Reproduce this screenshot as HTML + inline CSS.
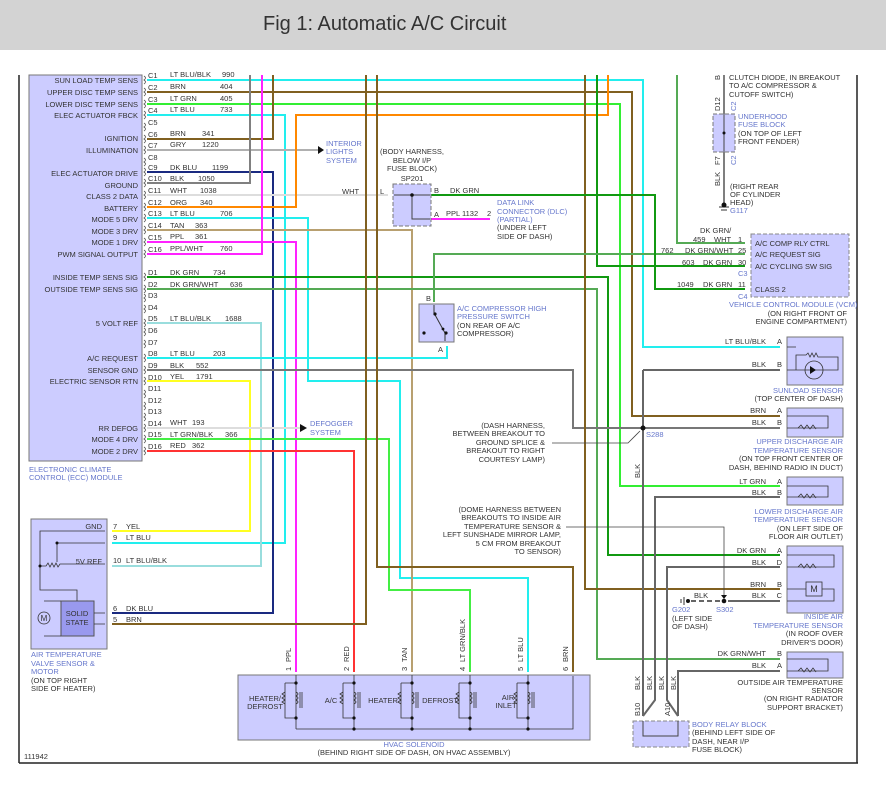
<!DOCTYPE html>
<html><head><meta charset="utf-8"><style>
body{margin:0;background:#fff;width:886px;height:786px;overflow:hidden}
svg{display:block}
text{font-family:"Liberation Sans",sans-serif;font-size:7.5px;fill:#333}
.b{fill:#6677cc}
.w{fill:none;stroke-width:2}
</style></head><body>
<svg width="886" height="786" viewBox="0 0 886 786">
<rect x="0" y="0" width="886" height="50" fill="#d3d3d3"/>
<text x="263" y="30" style="font-size:20px;fill:#333">Fig 1: Automatic A/C Circuit</text>
<line x1="19" y1="75" x2="19" y2="763" stroke="#222" stroke-width="1.5"/>
<line x1="857" y1="75" x2="857" y2="763" stroke="#222" stroke-width="1.5"/>
<line x1="19" y1="763" x2="858" y2="763" stroke="#222" stroke-width="1.5"/>

<!-- ECC module -->
<rect x="29" y="75" width="113" height="386" fill="#ccccff" stroke="#777"/>
<g text-anchor="end">
<text x="138" y="83">SUN LOAD TEMP SENS</text><text x="138" y="95">UPPER DISC TEMP SENS</text>
<text x="138" y="107">LOWER DISC TEMP SENS</text><text x="138" y="118">ELEC ACTUATOR FBCK</text>
<text x="138" y="141">IGNITION</text><text x="138" y="153">ILLUMINATION</text>
<text x="138" y="176">ELEC ACTUATOR DRIVE</text><text x="138" y="188">GROUND</text>
<text x="138" y="199">CLASS 2 DATA</text><text x="138" y="211">BATTERY</text>
<text x="138" y="222">MODE 5 DRV</text><text x="138" y="234">MODE 3 DRV</text>
<text x="138" y="245">MODE 1 DRV</text><text x="138" y="257">PWM SIGNAL OUTPUT</text>
<text x="138" y="280">INSIDE TEMP SENS SIG</text><text x="138" y="292">OUTSIDE TEMP SENS SIG</text>
<text x="138" y="326">5 VOLT REF</text><text x="138" y="361">A/C REQUEST</text>
<text x="138" y="373">SENSOR GND</text><text x="138" y="384">ELECTRIC SENSOR RTN</text>
<text x="138" y="431">RR DEFOG</text><text x="138" y="442">MODE 4 DRV</text><text x="138" y="454">MODE 2 DRV</text>
</g>
<text x="29" y="472" class="b">ELECTRONIC CLIMATE</text>
<text x="29" y="480" class="b">CONTROL (ECC) MODULE</text>
<g fill="none" stroke="#555" stroke-width="0.8">
<path d="M144,76q3,2 0,4q3,2 0,4M144,88q3,2 0,4q3,2 0,4M144,100q3,2 0,4q3,2 0,4M144,111q3,2 0,4q3,2 0,4M144,123q3,2 0,4q3,2 0,4M144,135q3,2 0,4q3,2 0,4M144,146q3,2 0,4q3,2 0,4M144,158q3,2 0,4q3,2 0,4M144,168q3,2 0,4q3,2 0,4M144,179q3,2 0,4q3,2 0,4M144,191q3,2 0,4q3,2 0,4M144,203q3,2 0,4q3,2 0,4M144,214q3,2 0,4q3,2 0,4M144,226q3,2 0,4q3,2 0,4M144,238q3,2 0,4q3,2 0,4M144,250q3,2 0,4q3,2 0,4"/>
<path d="M144,273q3,2 0,4q3,2 0,4M144,285q3,2 0,4q3,2 0,4M144,294q3,2 0,4q3,2 0,4M144,305q3,2 0,4q3,2 0,4M144,319q3,2 0,4q3,2 0,4M144,328q3,2 0,4q3,2 0,4M144,340q3,2 0,4q3,2 0,4M144,354q3,2 0,4q3,2 0,4M144,366q3,2 0,4q3,2 0,4M144,377q3,2 0,4q3,2 0,4M144,390q3,2 0,4q3,2 0,4M144,402q3,2 0,4q3,2 0,4M144,413q3,2 0,4q3,2 0,4M144,424q3,2 0,4q3,2 0,4M144,435q3,2 0,4q3,2 0,4M144,447q3,2 0,4q3,2 0,4"/>
</g>
<g>
<text x="148" y="78">C1</text><text x="148" y="90">C2</text><text x="148" y="102">C3</text><text x="148" y="113">C4</text>
<text x="148" y="125">C5</text><text x="148" y="137">C6</text><text x="148" y="148">C7</text><text x="148" y="160">C8</text>
<text x="148" y="170">C9</text><text x="148" y="181">C10</text><text x="148" y="193">C11</text><text x="148" y="205">C12</text>
<text x="148" y="216">C13</text><text x="148" y="228">C14</text><text x="148" y="240">C15</text><text x="148" y="252">C16</text>
<text x="148" y="275">D1</text><text x="148" y="287">D2</text><text x="148" y="298">D3</text><text x="148" y="310">D4</text>
<text x="148" y="321">D5</text><text x="148" y="333">D6</text><text x="148" y="345">D7</text><text x="148" y="356">D8</text>
<text x="148" y="368">D9</text><text x="148" y="380">D10</text><text x="148" y="391">D11</text><text x="148" y="403">D12</text>
<text x="148" y="414">D13</text><text x="148" y="426">D14</text><text x="148" y="437">D15</text><text x="148" y="449">D16</text>
</g>
<g>
<text x="170" y="77">LT BLU/BLK</text><text x="222" y="77">990</text>
<text x="170" y="89">BRN</text><text x="220" y="89">404</text>
<text x="170" y="101">LT GRN</text><text x="220" y="101">405</text>
<text x="170" y="112">LT BLU</text><text x="220" y="112">733</text>
<text x="170" y="136">BRN</text><text x="202" y="136">341</text>
<text x="170" y="147">GRY</text><text x="202" y="147">1220</text>
<text x="170" y="170">DK BLU</text><text x="212" y="170">1199</text>
<text x="170" y="181">BLK</text><text x="198" y="181">1050</text>
<text x="170" y="193">WHT</text><text x="200" y="193">1038</text>
<text x="170" y="205">ORG</text><text x="200" y="205">340</text>
<text x="170" y="216">LT BLU</text><text x="220" y="216">706</text>
<text x="170" y="228">TAN</text><text x="195" y="228">363</text>
<text x="170" y="239">PPL</text><text x="195" y="239">361</text>
<text x="170" y="251">PPL/WHT</text><text x="220" y="251">760</text>
<text x="170" y="275">DK GRN</text><text x="213" y="275">734</text>
<text x="170" y="287">DK GRN/WHT</text><text x="230" y="287">636</text>
<text x="170" y="321">LT BLU/BLK</text><text x="225" y="321">1688</text>
<text x="170" y="356">LT BLU</text><text x="213" y="356">203</text>
<text x="170" y="368">BLK</text><text x="196" y="368">552</text>
<text x="170" y="379">YEL</text><text x="196" y="379">1791</text>
<text x="170" y="425">WHT</text><text x="192" y="425">193</text>
<text x="170" y="437">LT GRN/BLK</text><text x="225" y="437">366</text>
<text x="170" y="448">RED</text><text x="192" y="448">362</text>
</g>

<!-- wires -->
<g class="w">
<path d="M147,80H643V347H780" stroke="#22eeee"/>
<path d="M147,92H632V416H780" stroke="#806020"/>
<path d="M147,104H620V486H780" stroke="#33ee33"/>
<path d="M147,115H285V543H112" stroke="#22eeee"/>
<path d="M147,139H273V75" stroke="#806020"/>
<path d="M147,150H318" stroke="#b0b0b0"/>
<path d="M147,172H273V613H112" stroke="#1a2a80"/>
<path d="M147,183H250V75" stroke="#808080"/>
<path d="M147,195H388" stroke="#dddddd"/>
<path d="M147,207H296V115H608V75" stroke="#ff8800"/>
<path d="M147,218H308V381H400V578H528V672" stroke="#22eeee"/>
<path d="M147,230H412V672" stroke="#b8a070"/>
<path d="M147,242H296V672" stroke="#ff22ff"/>
<path d="M147,254H262V75" stroke="#ff22ff"/>
<path d="M147,277H608V555H780" stroke="#119911"/>
<path d="M147,289H597V659H780" stroke="#55aa55"/>
<path d="M147,323H261V566H112" stroke="#99dddd"/>
<path d="M147,358H447V346" stroke="#22eeee"/>
<path d="M147,370H573V428H780" stroke="#777"/>
<path d="M147,381H250V531H112" stroke="#ffff22"/>
<path d="M147,428H300" stroke="#dddddd"/>
<path d="M147,439H389V590H470V672" stroke="#44ee44"/>
<path d="M147,451H354V672" stroke="#ff3333"/>
<path d="M366,75V624H112" stroke="#806020"/>
<path d="M377,75V567H573V672" stroke="#806020"/>
<path d="M585,75V589H780" stroke="#806020"/>
<path d="M597,75V266H745" stroke="#119911"/>
<path d="M677,75V243H745" stroke="#55aa55"/>
<path d="M434,302V254H745" stroke="#55aa55"/>
<path d="M398,195H655V289H745" stroke="#119911"/>
<path d="M398,219H490" stroke="#ff22ff"/>
<path d="M643,370H780M643,370V712L643,716" stroke="#666"/>
<path d="M780,497H655V700L643,716M780,567H667V700L678,716M780,671H678V716" stroke="#666"/>
<path d="M780,601H728" stroke="#666"/>
<path d="M720,601H688" stroke="#666" stroke-dasharray="5,3"/>
<path d="M724,75V114M724,152V205" stroke="#555" stroke-width="1.5"/>
</g>
<path d="M318,146l6,4l-6,4z M300,424l7,4l-7,4z" fill="#111"/>
<path d="M719,207h10M721,210h6" stroke="#333"/>
<circle cx="724" cy="205" r="2.5" fill="#111"/>
<circle cx="643" cy="428" r="2.5" fill="#111"/>
<circle cx="724" cy="601" r="2.3" fill="#111"/>
<circle cx="688" cy="601" r="2" fill="#111"/><path d="M684,597v8M681,599v4" stroke="#333"/>
<path d="M552,443H628L640,431" stroke="#444" fill="none" stroke-width="0.8"/>
<path d="M566,527H724V597" stroke="#444" fill="none" stroke-width="0.8"/>
<path d="M721,595l3,4l3,-4z" fill="#111"/>

<text x="326" y="146" class="b">INTERIOR</text><text x="326" y="154" class="b">LIGHTS</text><text x="326" y="163" class="b">SYSTEM</text>
<text x="310" y="426" class="b">DEFOGGER</text><text x="310" y="435" class="b">SYSTEM</text>

<!-- SP201 -->
<rect x="393" y="184" width="38" height="42" fill="#ccccff" stroke="#777" stroke-dasharray="4,2"/>
<path d="M394,195H430M412,195V219H430" stroke="#444" fill="none"/><circle cx="412" cy="195" r="1.8" fill="#111"/>
<text x="412" y="154" text-anchor="middle">(BODY HARNESS,</text><text x="412" y="163" text-anchor="middle">BELOW I/P</text>
<text x="412" y="171" text-anchor="middle">FUSE BLOCK)</text><text x="412" y="181" text-anchor="middle">SP201</text>
<text x="380" y="194">L</text><text x="434" y="193">B</text><text x="434" y="217">A</text>
<text x="342" y="194">WHT</text><text x="450" y="193">DK GRN</text>
<text x="446" y="216">PPL</text><text x="462" y="216">1132</text><text x="487" y="216">2</text>
<text x="497" y="205" class="b">DATA LINK</text><text x="497" y="214" class="b">CONNECTOR (DLC)</text>
<text x="497" y="222" class="b">(PARTIAL)</text><text x="497" y="230">(UNDER LEFT</text><text x="497" y="239">SIDE OF DASH)</text>

<!-- pressure switch -->
<rect x="419" y="304" width="35" height="38" fill="#ccccff" stroke="#777"/>
<path d="M434,305V313L445,333V341" stroke="#333" fill="none"/>
<circle cx="435" cy="314" r="1.6" fill="#111"/><circle cx="443" cy="329" r="1.4" fill="#111"/><circle cx="446" cy="333" r="1.6" fill="#111"/><circle cx="424" cy="333" r="1.6" fill="#111"/>
<text x="426" y="301">B</text><text x="438" y="352">A</text>
<text x="457" y="311" class="b">A/C COMPRESSOR HIGH</text><text x="457" y="319" class="b">PRESSURE SWITCH</text>
<text x="457" y="328">(ON REAR OF A/C</text><text x="457" y="336">COMPRESSOR)</text>

<!-- underhood fuse -->
<rect x="713" y="114" width="22" height="38" fill="#ccccff" stroke="#777" stroke-dasharray="4,2"/>
<line x1="724" y1="114" x2="724" y2="152" stroke="#444"/><circle cx="724" cy="133" r="1.5" fill="#111"/>
<text x="729" y="80">CLUTCH DIODE, IN BREAKOUT</text><text x="729" y="88">TO A/C COMPRESSOR &amp;</text><text x="729" y="97">CUTOFF SWITCH)</text>
<text x="738" y="119" class="b">UNDERHOOD</text><text x="738" y="127" class="b">FUSE BLOCK</text>
<text x="738" y="136">(ON TOP OF LEFT</text><text x="738" y="144">FRONT FENDER)</text>
<text x="730" y="189">(RIGHT REAR</text><text x="730" y="197">OF CYLINDER</text><text x="730" y="205">HEAD)</text>
<text x="730" y="213" class="b">G117</text>
<text transform="translate(720,111) rotate(-90)">D12</text><text transform="translate(736,111) rotate(-90)" class="b">C2</text>
<text transform="translate(720,165) rotate(-90)">F7</text><text transform="translate(736,165) rotate(-90)" class="b">C2</text>
<text transform="translate(720,186) rotate(-90)">BLK</text><text transform="translate(720,80) rotate(-90)">B</text>

<!-- VCM -->
<rect x="751" y="234" width="98" height="63" fill="#ccccff" stroke="#888" stroke-dasharray="4,2"/>
<text x="755" y="246">A/C COMP RLY CTRL</text><text x="755" y="257">A/C REQUEST SIG</text>
<text x="755" y="269">A/C CYCLING SW SIG</text><text x="755" y="292">CLASS 2</text>
<text x="700" y="233">DK GRN/</text><text x="693" y="242">459</text><text x="714" y="242">WHT</text><text x="738" y="242">1</text>
<text x="661" y="253">762</text><text x="685" y="253">DK GRN/WHT</text><text x="738" y="253">25</text>
<text x="682" y="265">603</text><text x="703" y="265">DK GRN</text><text x="738" y="265">30</text>
<text x="677" y="287">1049</text><text x="703" y="287">DK GRN</text><text x="738" y="287">11</text>
<text x="738" y="276" class="b">C3</text><text x="738" y="299" class="b">C4</text>
<text x="729" y="307" class="b">VEHICLE CONTROL MODULE (VCM)</text>
<text x="847" y="316" text-anchor="end">(ON RIGHT FRONT OF</text><text x="847" y="324" text-anchor="end">ENGINE COMPARTMENT)</text>

<!-- sensors -->
<g fill="#ccccff" stroke="#777">
<rect x="787" y="337" width="56" height="48"/><rect x="787" y="408" width="56" height="29"/>
<rect x="787" y="477" width="56" height="28"/><rect x="787" y="546" width="56" height="67"/>
<rect x="787" y="652" width="56" height="26"/>
</g>
<g fill="none" stroke="#333" stroke-width="0.8">
<path d="M796,347H787M796,370H787M796,370V355H806l2,-2 2,4 2,-4 2,4 2,-4 2,4H838V370H796"/><circle cx="814" cy="370" r="9"/>
<path d="M787,416H828V428H787M798,428l3,-3 3,4 3,-4 3,4 3,-4 3,4"/>
<path d="M787,486H828V497H787M798,497l3,-3 3,4 3,-4 3,4 3,-4 3,4"/>
<path d="M787,555H834V567H787M798,567l3,-3 3,4 3,-4 3,4 3,-4 3,4"/>
<path d="M787,589H806M822,589H834V601H787"/><rect x="806" y="582" width="16" height="14"/>
<path d="M787,659H828V671H787M798,671l3,-3 3,4 3,-4 3,4 3,-4 3,4"/>
</g>
<text x="814" y="592" text-anchor="middle" style="font-size:9px">M</text>
<path d="M810,366l6,4l-6,4z" fill="#111"/>
<g text-anchor="end">
<text x="766" y="344">LT BLU/BLK</text><text x="782" y="344">A</text>
<text x="766" y="367">BLK</text><text x="782" y="367">B</text>
<text x="766" y="413">BRN</text><text x="782" y="413">A</text>
<text x="766" y="425">BLK</text><text x="782" y="425">B</text>
<text x="766" y="484">LT GRN</text><text x="782" y="484">A</text>
<text x="766" y="495">BLK</text><text x="782" y="495">B</text>
<text x="766" y="553">DK GRN</text><text x="782" y="553">A</text>
<text x="766" y="565">BLK</text><text x="782" y="565">D</text>
<text x="766" y="587">BRN</text><text x="782" y="587">B</text>
<text x="766" y="598">BLK</text><text x="782" y="598">C</text>
<text x="766" y="656">DK GRN/WHT</text><text x="782" y="656">B</text>
<text x="766" y="668">BLK</text><text x="782" y="668">A</text>
<text x="843" y="393" class="b">SUNLOAD SENSOR</text><text x="843" y="401">(TOP CENTER OF DASH)</text>
<text x="843" y="444" class="b">UPPER DISCHARGE AIR</text><text x="843" y="453" class="b">TEMPERATURE SENSOR</text>
<text x="843" y="461">(ON TOP FRONT CENTER OF</text><text x="843" y="470">DASH, BEHIND RADIO IN DUCT)</text>
<text x="843" y="514" class="b">LOWER DISCHARGE AIR</text><text x="843" y="522" class="b">TEMPERATURE SENSOR</text>
<text x="843" y="531">(ON LEFT SIDE OF</text><text x="843" y="539">FLOOR AIR OUTLET)</text>
<text x="843" y="619" class="b">INSIDE AIR</text><text x="843" y="628" class="b">TEMPERATURE SENSOR</text>
<text x="843" y="636">(IN ROOF OVER</text><text x="843" y="645">DRIVER'S DOOR)</text>
<text x="843" y="685">OUTSIDE AIR TEMPERATURE</text><text x="843" y="693">SENSOR</text>
<text x="843" y="701">(ON RIGHT RADIATOR</text><text x="843" y="710">SUPPORT BRACKET)</text>
<text x="545" y="428">(DASH HARNESS,</text><text x="545" y="436">BETWEEN BREAKOUT TO</text>
<text x="545" y="445">GROUND SPLICE &amp;</text><text x="545" y="453">BREAKOUT TO RIGHT</text><text x="545" y="462">COURTESY LAMP)</text>
<text x="561" y="512">(DOME HARNESS BETWEEN</text><text x="561" y="520">BREAKOUTS TO INSIDE AIR</text>
<text x="561" y="529">TEMPERATURE SENSOR &amp;</text><text x="561" y="537">LEFT SUNSHADE MIRROR LAMP,</text>
<text x="561" y="546">5 CM FROM BREAKOUT</text><text x="561" y="554">TO SENSOR)</text>
</g>
<text x="646" y="437" class="b">S288</text>
<text transform="translate(640,478) rotate(-90)">BLK</text>
<text x="694" y="598">BLK</text>
<text x="672" y="612" class="b">G202</text><text x="716" y="612" class="b">S302</text>
<text x="672" y="621">(LEFT SIDE</text><text x="672" y="629">OF DASH)</text>

<!-- body relay -->
<rect x="633" y="721" width="56" height="26" fill="#ccccff" stroke="#888" stroke-dasharray="4,2"/>
<path d="M643,721V736H678V721" fill="none" stroke="#444"/>
<text transform="translate(640,690) rotate(-90)">BLK</text><text transform="translate(652,690) rotate(-90)">BLK</text>
<text transform="translate(664,690) rotate(-90)">BLK</text><text transform="translate(676,690) rotate(-90)">BLK</text>
<text transform="translate(640,716) rotate(-90)">B10</text><text transform="translate(670,716) rotate(-90)">A10</text>
<text x="692" y="727" class="b">BODY RELAY BLOCK</text><text x="692" y="735">(BEHIND LEFT SIDE OF</text>
<text x="692" y="744">DASH, NEAR I/P</text><text x="692" y="752">FUSE BLOCK)</text>

<!-- air temp valve -->
<rect x="31" y="519" width="76" height="130" fill="#ccccff" stroke="#777"/>
<rect x="61" y="601" width="33" height="35" fill="#9999ee" stroke="#555"/>
<g fill="none" stroke="#333" stroke-width="0.8">
<path d="M40,590V531H105M57,543H105M57,543V562M40,566H46l2,-3 2,4 2,-4 2,4 2,-4 2,4 2,-3H105M40,566V590H77V601M94,613H105M94,624H105M44,601H61M44,636H61"/>
<circle cx="44" cy="618" r="6"/>
</g>
<circle cx="40" cy="566" r="1.5" fill="#111"/><circle cx="57" cy="543" r="1.5" fill="#111"/>
<text x="44" y="621" text-anchor="middle" style="font-size:8px">M</text>
<text x="77" y="616" text-anchor="middle">SOLID</text><text x="77" y="625" text-anchor="middle">STATE</text>
<text x="102" y="529" text-anchor="end">GND</text><text x="102" y="564" text-anchor="end">5V REF</text>
<text x="113" y="529">7</text><text x="126" y="529">YEL</text><text x="113" y="540">9</text><text x="126" y="540">LT BLU</text>
<text x="113" y="563">10</text><text x="126" y="563">LT BLU/BLK</text><text x="113" y="611">6</text><text x="126" y="611">DK BLU</text>
<text x="113" y="622">5</text><text x="126" y="622">BRN</text>
<text x="31" y="657" class="b">AIR TEMPERATURE</text><text x="31" y="666" class="b">VALVE SENSOR &amp;</text>
<text x="31" y="674" class="b">MOTOR</text><text x="31" y="683">(ON TOP RIGHT</text><text x="31" y="691">SIDE OF HEATER)</text>
<text x="24" y="759">111942</text>

<!-- HVAC solenoid -->
<rect x="238" y="675" width="352" height="65" fill="#ccccff" stroke="#777"/>
<g fill="none" stroke="#333" stroke-width="0.8">
<path d="M296,729H573V676"/>
<path id="c" d="M296,675V729M285,683H296M285,683V718H296M285,692l-3,2 3,2 -3,2 3,2 -3,2 3,2M296,692q4,2 0,4q4,2 0,4q4,2 0,4M300,692V708M302,692V708"/>
<use href="#c" x="58"/><use href="#c" x="116"/><use href="#c" x="174"/><use href="#c" x="232"/>
</g>
<g fill="#111">
<circle cx="296" cy="683" r="1.6"/><circle cx="296" cy="718" r="1.6"/><circle cx="354" cy="683" r="1.6"/><circle cx="354" cy="718" r="1.6"/><circle cx="354" cy="729" r="1.6"/>
<circle cx="412" cy="683" r="1.6"/><circle cx="412" cy="718" r="1.6"/><circle cx="412" cy="729" r="1.6"/>
<circle cx="470" cy="683" r="1.6"/><circle cx="470" cy="718" r="1.6"/><circle cx="470" cy="729" r="1.6"/>
<circle cx="528" cy="683" r="1.6"/><circle cx="528" cy="718" r="1.6"/><circle cx="528" cy="729" r="1.6"/>
</g>
<text x="265" y="701" text-anchor="middle">HEATER/</text><text x="265" y="709" text-anchor="middle">DEFROST</text>
<text x="331" y="703" text-anchor="middle">A/C</text><text x="383" y="703" text-anchor="middle">HEATER</text>
<text x="440" y="703" text-anchor="middle">DEFROST</text><text x="508" y="700" text-anchor="middle">AIR</text><text x="506" y="708" text-anchor="middle">INLET</text>
<text x="414" y="747" text-anchor="middle" class="b">HVAC SOLENOID</text>
<text x="414" y="755" text-anchor="middle">(BEHIND RIGHT SIDE OF DASH, ON HVAC ASSEMBLY)</text>
<text transform="translate(291,671) rotate(-90)">1</text><text transform="translate(291,662) rotate(-90)">PPL</text>
<text transform="translate(349,671) rotate(-90)">2</text><text transform="translate(349,662) rotate(-90)">RED</text>
<text transform="translate(407,671) rotate(-90)">3</text><text transform="translate(407,662) rotate(-90)">TAN</text>
<text transform="translate(465,671) rotate(-90)">4</text><text transform="translate(465,662) rotate(-90)">LT GRN/BLK</text>
<text transform="translate(523,671) rotate(-90)">5</text><text transform="translate(523,662) rotate(-90)">LT BLU</text>
<text transform="translate(568,671) rotate(-90)">6</text><text transform="translate(568,662) rotate(-90)">BRN</text>
</svg>
</body></html>
